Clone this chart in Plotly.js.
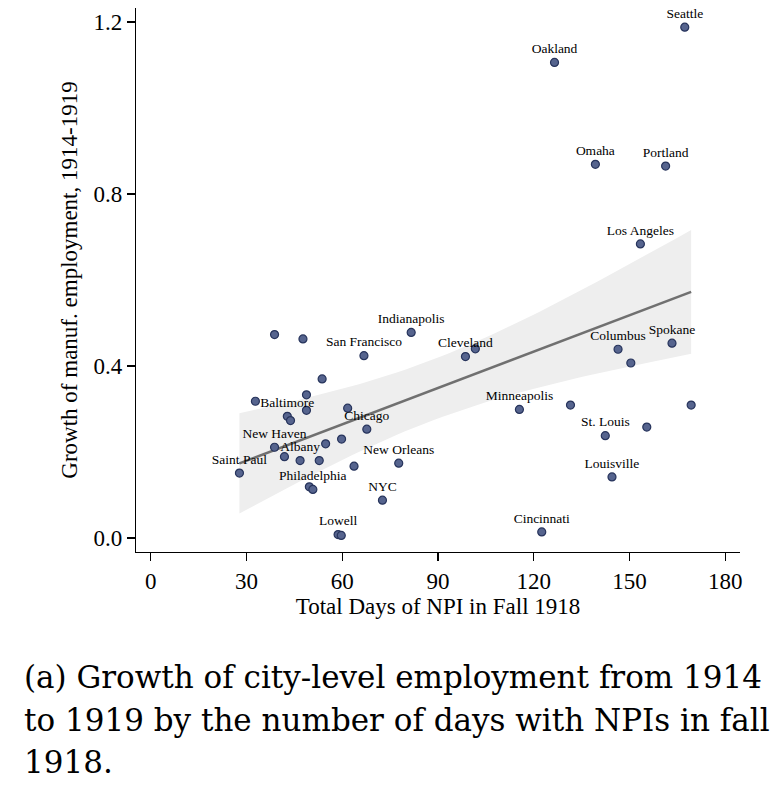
<!DOCTYPE html>
<html>
<head>
<meta charset="utf-8">
<script src="https://cdn.plot.ly/plotly-3.0.1.min.js"></script>
<style>
  html, body { margin: 0; padding: 0; background: #ffffff; }
  #chart { width: 780px; height: 790px; }
</style>
</head>
<body>
<div id="chart"></div>
<script>
// ---- Data ----
var cityLabels = [
  "Seattle", "Oakland", "Omaha", "Portland", "Los Angeles",
  "Indianapolis", "San Francisco", "Cleveland", "", "Columbus",
  "", "Spokane", "Minneapolis", "", "",
  "St. Louis", "", "Louisville", "Cincinnati", "New Orleans",
  "NYC", "Lowell", "", "", "Philadelphia",
  "Saint Paul", "New Haven", "", "Albany", "",
  "", "", "", "Chicago", "",
  "", "Baltimore", "", "", "",
  "", "", ""
];
var npiDays = [
  167.3, 126.5, 139.3, 161.3, 153.4,
  81.6, 66.8, 98.6, 101.7, 146.4,
  150.4, 163.3, 115.5, 131.5, 169.3,
  142.4, 155.4, 144.5, 122.5, 77.7,
  72.6, 58.7, 59.7, 49.7, 50.8,
  27.8, 38.8, 41.9, 46.8, 52.8,
  54.8, 59.8, 63.7, 67.7, 61.7,
  32.8, 42.8, 43.8, 48.8, 48.8,
  53.7, 38.8, 47.7
];
var empGrowth = [
  1.188, 1.106, 0.869, 0.865, 0.684,
  0.478, 0.424, 0.422, 0.440, 0.439,
  0.407, 0.453, 0.299, 0.309, 0.309,
  0.238, 0.258, 0.142, 0.014, 0.174,
  0.088, 0.008, 0.006, 0.119, 0.113,
  0.151, 0.211, 0.189, 0.180, 0.180,
  0.219, 0.230, 0.167, 0.253, 0.302,
  0.318, 0.283, 0.273, 0.333, 0.297,
  0.370, 0.473, 0.463
];
var xTicks = [0, 30, 60, 90, 120, 150, 180];
var yTicks = [0.0, 0.4, 0.8, 1.2];
var yTickText = ["0.0", "0.4", "0.8", "1.2"];
var xTitle = "Total Days of NPI in Fall 1918";
var yTitle = "Growth of manuf. employment, 1914-1919";
var captionLines = [
  "(a) Growth of city-level employment from 1914",
  "to 1919 by the number of days with NPIs in fall",
  "1918."
];

// ---- Linear fit with 95% CI (as in Stata lfitci), computed from the data ----
function linfit(x, y) {
  var n = x.length, mx = 0, my = 0;
  for (var i = 0; i < n; i++) { mx += x[i]; my += y[i]; }
  mx /= n; my /= n;
  var sxx = 0, sxy = 0;
  for (var i = 0; i < n; i++) { sxx += (x[i]-mx)*(x[i]-mx); sxy += (x[i]-mx)*(y[i]-my); }
  var b = sxy / sxx, a = my - b * mx;
  var sse = 0;
  for (var i = 0; i < n; i++) { var r = y[i] - (a + b*x[i]); sse += r*r; }
  var s2 = sse / (n - 2);
  return {a: a, b: b, mx: mx, sxx: sxx, s2: s2, n: n};
}
var fit = linfit(npiDays, empGrowth);
var tcrit = 2.0195; // t(0.975, 41 df)
var xmin = Math.min.apply(null, npiDays), xmax = Math.max.apply(null, npiDays);
var gx = [], gy = [], glo = [], ghi = [];
var steps = 60;
for (var k = 0; k <= steps; k++) {
  var xv = xmin + (xmax - xmin) * k / steps;
  var yv = fit.a + fit.b * xv;
  var se = Math.sqrt(fit.s2 * (1 / fit.n + (xv - fit.mx) * (xv - fit.mx) / fit.sxx));
  gx.push(xv); gy.push(yv); glo.push(yv - tcrit * se); ghi.push(yv + tcrit * se);
}

var serif = "'Liberation Serif', 'Times New Roman', Times, serif";
var capFont = "'DejaVu Serif', serif";

var traces = [
  { x: gx, y: glo, type: "scatter", mode: "lines", line: {width: 0, color: "rgba(0,0,0,0)"},
    hoverinfo: "skip", showlegend: false },
  { x: gx, y: ghi, type: "scatter", mode: "lines", line: {width: 0, color: "rgba(0,0,0,0)"},
    fill: "tonexty", fillcolor: "rgb(238,238,238)", hoverinfo: "skip", showlegend: false },
  { x: gx, y: gy, type: "scatter", mode: "lines", line: {width: 2.6, color: "#707070"},
    hoverinfo: "skip", showlegend: false },
  { x: npiDays, y: empGrowth, text: cityLabels, type: "scatter", mode: "markers+text",
    textposition: "top center",
    textfont: {family: serif, size: 13.5, color: "#000000"},
    marker: {size: 8, color: "#56648e", line: {width: 1.2, color: "#27345c"}},
    showlegend: false, cliponaxis: false }
];

var W = 780, H = 790;
var mL = 136, mR = 40, mT = 8, mB = 238;
var plotH = H - mT - mB;
function paperY(py) { return (H - mB - py) / plotH; }

var annotations = captionLines.map(function (t, i) {
  var centers = [677, 720, 762];
  return { text: t, xref: "paper", yref: "paper",
    x: (22 - mL) / (W - mL - mR), y: paperY(centers[i]),
    xanchor: "left", yanchor: "middle", showarrow: false, align: "left",
    font: {family: capFont, size: 31, color: "#000000"} };
});

var layout = {
  width: W, height: H,
  margin: {l: mL, r: mR, t: mT, b: mB, pad: 0},
  paper_bgcolor: "#ffffff", plot_bgcolor: "#ffffff",
  font: {family: serif, color: "#000000"},
  showlegend: false,
  xaxis: {
    range: [-4.6, 184.6], tickvals: xTicks, ticktext: xTicks.map(String),
    showline: true, linecolor: "#000000", linewidth: 1.2,
    ticks: "outside", ticklen: 8, tickwidth: 1.2, tickcolor: "#000000",
    showgrid: false, zeroline: false,
    tickfont: {family: serif, size: 23, color: "#000000"},
    ticklabelstandoff: 0,
    title: {text: xTitle, font: {family: serif, size: 23, color: "#000000"}, standoff: 0}
  },
  yaxis: {
    range: [-0.0326, 1.2326], tickvals: yTicks, ticktext: yTickText,
    showline: true, linecolor: "#000000", linewidth: 1.2,
    ticks: "outside", ticklen: 8, tickwidth: 1.2, tickcolor: "#000000",
    showgrid: false, zeroline: false,
    tickfont: {family: serif, size: 23, color: "#000000"},
    ticklabelstandoff: 0,
    title: {text: yTitle, font: {family: serif, size: 23, color: "#000000"}, standoff: 9}
  },
  annotations: annotations
};

Plotly.newPlot("chart", traces, layout, {displayModeBar: false, staticPlot: true});
</script>
</body>
</html>
